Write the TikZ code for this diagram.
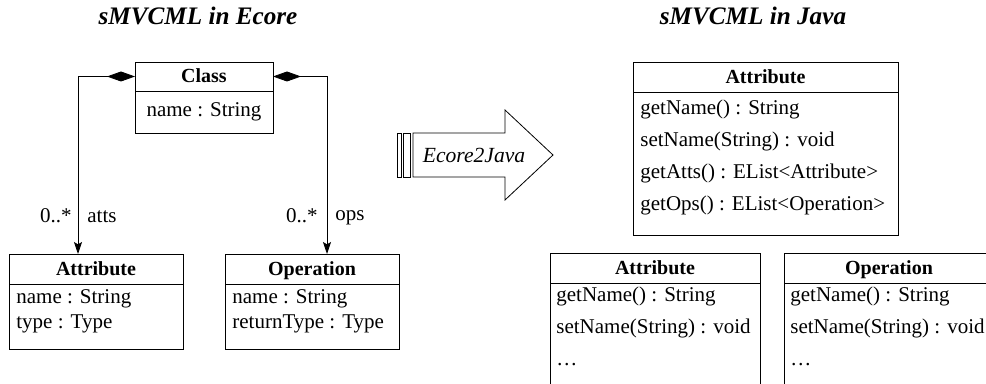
\documentclass[tikz,border=0pt]{standalone}
\usepackage{fontspec}
\setmainfont{Liberation Serif}
\usepackage{tikz}
\usetikzlibrary{arrows.meta,positioning}

\tikzset{
  hdr/.style={draw, outer sep=0pt, inner sep=0pt, minimum height=15pt, text height=7pt, text depth=0.6pt, font=\bfseries},
  bdy/.style={draw, outer sep=0pt, inner sep=0pt},
  memb/.style={anchor=base west, inner sep=0pt},
  mult/.style={inner sep=0pt},
  comp/.style={{Diamond[length=14pt,width=5pt]}-{Stealth[length=6pt,width=4pt,inset=1.2pt]}},
  ttl/.style={anchor=base, font=\fontsize{12.6}{15}\selectfont\bfseries\itshape}
}

\begin{document}
\begin{tikzpicture}[x=0.5pt,y=-0.5pt,font=\fontsize{10.5}{13}\selectfont]
  \useasboundingbox (0,0) rectangle (986,384);
  \clip (0,0) rectangle (986,384);

  % titles
  \node[ttl] (ttl-e) at (198,25) {sMVCML in Ecore};
  \node[ttl] (ttl-j) at (753,25) {sMVCML in Java};

  % Ecore side
  \node[hdr, minimum width=69pt, minimum height=14.5pt, anchor=north west] (cls-h) at (135,62) {Class};
  \node[bdy, minimum width=69pt, minimum height=21pt, below=0pt of cls-h] (cls-b) {name : String};

  \node[hdr, minimum width=87pt, anchor=north west] (attl-h) at (9,254) {Attribute};
  \node[bdy, minimum width=87pt, minimum height=32.5pt, below=0pt of attl-h] (attl-b) {};
  \foreach \t [count=\i, evaluate=\i as \dy using -10-(\i-1)*12.5] in {name : String, type : Type}
    \node[memb] (attl-l\i) at ([shift={(3.5pt,\dy pt)}]attl-b.north west) {\t};

  \node[hdr, minimum width=87pt, anchor=north west] (opl-h) at (225,254) {Operation};
  \node[bdy, minimum width=87pt, minimum height=32.5pt, below=0pt of opl-h] (opl-b) {};
  \foreach \t [count=\i, evaluate=\i as \dy using -10-(\i-1)*12.5] in {name : String, returnType : Type}
    \node[memb] (opl-l\i) at ([shift={(3.5pt,\dy pt)}]opl-b.north west) {\t};

  \coordinate (kneeL) at (78,0);
  \coordinate (kneeR) at (327,0);
  \draw[comp] (cls-h.west) -| (kneeL |- attl-h.north);
  \draw[comp] (cls-h.east) -| (kneeR |- opl-h.north);
  \node[mult, anchor=base east] (atts-m) at ([shift={(-3pt,15.5pt)}]kneeL |- attl-h.north) {0..*};
  \node[mult, anchor=base west] (atts-n) at ([shift={(4.5pt,15.5pt)}]kneeL |- attl-h.north) {atts};
  \node[mult, anchor=base east] (ops-m) at ([shift={(-4.5pt,15.5pt)}]kneeR |- opl-h.north) {0..*};
  \node[mult, anchor=base west] (ops-n) at ([shift={(4pt,16.5pt)}]kneeR |- opl-h.north) {ops};

  % transformation arrow
  \draw (397,133) rectangle (401,177);
  \draw (403,133) rectangle (410,177);
  \draw (413,133) -- (505,133) -- (505,110) -- (553,155) -- (505,200) -- (505,177) -- (413,177) -- cycle;
  \node[font=\fontsize{10.8}{13}\selectfont\itshape] (xform) at (474,155) {Ecore2Java};

  % Java side
  \node[hdr, minimum width=132.5pt, anchor=north west] (jcls-h) at (633,62) {Attribute};
  \node[bdy, minimum width=132.5pt, minimum height=71.5pt, below=0pt of jcls-h] (jcls-b) {};
  \foreach \t [count=\i, evaluate=\i as \dy using -11.5-(\i-1)*16] in
      {getName() : String, setName(String) : void, getAtts() : EList<Attribute>, getOps() : EList<Operation>}
    \node[memb] (jcls-l\i) at ([shift={(3.5pt,\dy pt)}]jcls-b.north west) {\t};

  \node[hdr, minimum width=105pt, anchor=north west] (jatt-h) at (550,253) {Attribute};
  \node[bdy, minimum width=105pt, minimum height=60pt, below=0pt of jatt-h] (jatt-b) {};
  \foreach \t [count=\i, evaluate=\i as \dy using -9.5-(\i-1)*16] in {getName() : String, setName(String) : void, \dots}
    \node[memb] (jatt-l\i) at ([shift={(3pt,\dy pt)}]jatt-b.north west) {\t};

  \node[hdr, minimum width=105pt, anchor=north west] (jop-h) at (784,253) {Operation};
  \node[bdy, minimum width=105pt, minimum height=60pt, below=0pt of jop-h] (jop-b) {};
  \foreach \t [count=\i, evaluate=\i as \dy using -9.5-(\i-1)*16] in {getName() : String, setName(String) : void, \dots}
    \node[memb] (jop-l\i) at ([shift={(3pt,\dy pt)}]jop-b.north west) {\t};
\end{tikzpicture}
\end{document}
